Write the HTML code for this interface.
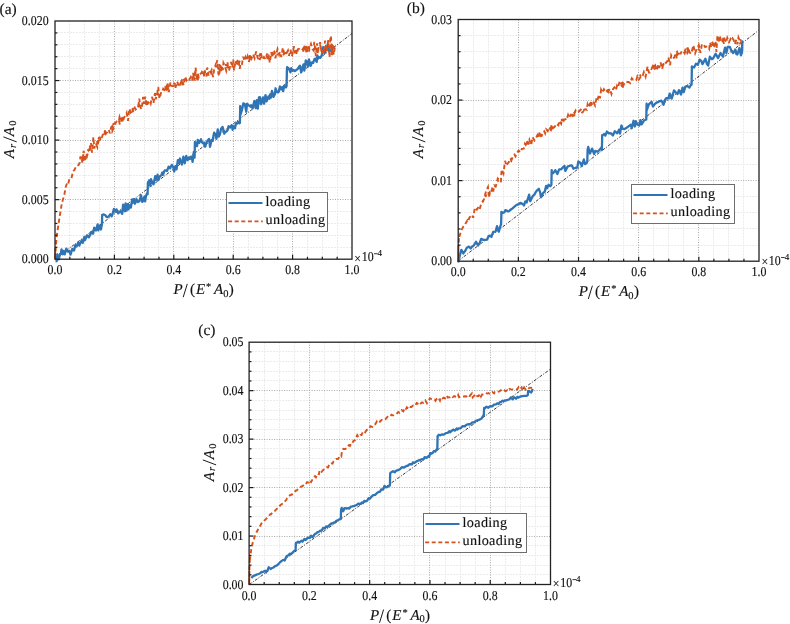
<!DOCTYPE html>
<html><head><meta charset="utf-8"><style>
html,body{margin:0;padding:0;background:#fff;}
svg{display:block;}
text{font-family:"Liberation Serif", serif; fill:#111; text-rendering:geometricPrecision; stroke:#111; stroke-width:0.15px;}
svg{will-change:transform;}
.gmin{stroke:#ebebeb;stroke-width:1;stroke-dasharray:2,1;}
.gmaj{stroke:#a8a8a8;stroke-width:1;stroke-dasharray:1,1.5;}
.ax{fill:none;stroke:#222;stroke-width:1.3;}
.tk{stroke:#1a1a1a;stroke-width:1.2;}
.sl{stroke:#1a1a1a;stroke-width:1.0;}
.ref{stroke:#222;stroke-width:0.9;fill:none;stroke-dasharray:3,1.5,1,1.5;}
.bl{stroke:#2f74b5;stroke-width:2.3;fill:none;stroke-linejoin:round;}
.ort{stroke:#d6521d;stroke-width:1.9;fill:none;}
.or{stroke:#d6521d;stroke-width:1.9;fill:none;stroke-dasharray:4.4,2.8;}
</style></head><body>
<svg width="790" height="624" viewBox="0 0 790 624">

<line x1="69.50" y1="21.00" x2="69.50" y2="259.20" class="gmin"/>
<line x1="84.50" y1="21.00" x2="84.50" y2="259.20" class="gmin"/>
<line x1="99.50" y1="21.00" x2="99.50" y2="259.20" class="gmin"/>
<line x1="129.50" y1="21.00" x2="129.50" y2="259.20" class="gmin"/>
<line x1="144.50" y1="21.00" x2="144.50" y2="259.20" class="gmin"/>
<line x1="158.50" y1="21.00" x2="158.50" y2="259.20" class="gmin"/>
<line x1="188.50" y1="21.00" x2="188.50" y2="259.20" class="gmin"/>
<line x1="203.50" y1="21.00" x2="203.50" y2="259.20" class="gmin"/>
<line x1="218.50" y1="21.00" x2="218.50" y2="259.20" class="gmin"/>
<line x1="248.50" y1="21.00" x2="248.50" y2="259.20" class="gmin"/>
<line x1="262.50" y1="21.00" x2="262.50" y2="259.20" class="gmin"/>
<line x1="277.50" y1="21.00" x2="277.50" y2="259.20" class="gmin"/>
<line x1="307.50" y1="21.00" x2="307.50" y2="259.20" class="gmin"/>
<line x1="322.50" y1="21.00" x2="322.50" y2="259.20" class="gmin"/>
<line x1="337.50" y1="21.00" x2="337.50" y2="259.20" class="gmin"/>
<line x1="55.00" y1="247.50" x2="352.00" y2="247.50" class="gmin"/>
<line x1="55.00" y1="235.50" x2="352.00" y2="235.50" class="gmin"/>
<line x1="55.00" y1="223.50" x2="352.00" y2="223.50" class="gmin"/>
<line x1="55.00" y1="211.50" x2="352.00" y2="211.50" class="gmin"/>
<line x1="55.00" y1="187.50" x2="352.00" y2="187.50" class="gmin"/>
<line x1="55.00" y1="175.50" x2="352.00" y2="175.50" class="gmin"/>
<line x1="55.00" y1="163.50" x2="352.00" y2="163.50" class="gmin"/>
<line x1="55.00" y1="152.50" x2="352.00" y2="152.50" class="gmin"/>
<line x1="55.00" y1="128.50" x2="352.00" y2="128.50" class="gmin"/>
<line x1="55.00" y1="116.50" x2="352.00" y2="116.50" class="gmin"/>
<line x1="55.00" y1="104.50" x2="352.00" y2="104.50" class="gmin"/>
<line x1="55.00" y1="92.50" x2="352.00" y2="92.50" class="gmin"/>
<line x1="55.00" y1="68.50" x2="352.00" y2="68.50" class="gmin"/>
<line x1="55.00" y1="56.50" x2="352.00" y2="56.50" class="gmin"/>
<line x1="55.00" y1="44.50" x2="352.00" y2="44.50" class="gmin"/>
<line x1="55.00" y1="32.50" x2="352.00" y2="32.50" class="gmin"/>
<line x1="114.50" y1="21.00" x2="114.50" y2="259.20" class="gmaj"/>
<line x1="173.50" y1="21.00" x2="173.50" y2="259.20" class="gmaj"/>
<line x1="233.50" y1="21.00" x2="233.50" y2="259.20" class="gmaj"/>
<line x1="292.50" y1="21.00" x2="292.50" y2="259.20" class="gmaj"/>
<line x1="55.00" y1="199.50" x2="352.00" y2="199.50" class="gmaj"/>
<line x1="55.00" y1="140.50" x2="352.00" y2="140.50" class="gmaj"/>
<line x1="55.00" y1="80.50" x2="352.00" y2="80.50" class="gmaj"/>
<line x1="55" y1="259.2" x2="352" y2="33.5" class="ref"/>
<path class="bl" d="M55.50,261.36 L56.69,261.08 L57.33,254.27 L58.79,259.30 L60.04,254.01 L60.68,254.22 L61.56,249.45 L62.82,254.21 L63.57,250.92 L64.68,254.40 L66.33,248.64 L67.89,251.64 L69.30,250.96 L70.53,254.66 L72.31,248.96 L74.08,250.54 L75.30,245.18 L76.56,246.45 L78.22,242.66 L79.33,245.64 L80.54,242.25 L81.89,240.11 L82.70,242.93 L84.28,236.95 L84.90,240.23 L86.25,237.23 L87.05,235.34 L88.22,236.23 L88.95,237.28 L90.53,234.02 L91.32,231.87 L93.09,233.77 L94.17,227.71 L95.93,230.42 L97.66,224.31 L98.30,230.48 L99.94,225.51 L100.96,229.49 L101.68,225.20 L101.90,224.80 L102.20,214.90 L103.33,214.46 L105.11,214.99 L106.72,217.12 L107.90,216.79 L108.70,216.41 L110.31,214.29 L111.64,216.21 L112.36,214.54 L113.96,208.86 L115.24,211.74 L116.52,209.34 L118.11,213.38 L119.78,211.98 L120.51,211.11 L122.21,213.88 L123.11,204.55 L124.89,211.27 L125.57,203.48 L126.42,210.70 L127.82,204.05 L128.52,209.31 L129.89,205.07 L130.87,207.61 L132.12,199.30 L132.81,202.80 L133.76,199.19 L134.96,203.76 L136.49,199.10 L137.71,202.08 L139.40,201.15 L141.09,195.40 L142.21,201.90 L142.89,201.12 L144.51,196.33 L145.14,201.42 L145.90,196.47 L146.98,193.48 L147.60,194.20 L147.90,182.50 L148.18,183.04 L149.07,180.38 L150.34,185.64 L151.00,179.09 L152.52,183.12 L153.57,184.30 L155.24,176.08 L156.10,179.78 L157.56,174.72 L158.21,180.07 L159.91,176.25 L161.30,175.38 L162.36,172.50 L163.11,174.78 L164.20,171.31 L164.80,170.43 L166.13,170.43 L167.06,170.96 L168.63,166.58 L170.15,168.39 L171.72,164.87 L173.24,167.10 L174.21,171.55 L175.35,166.05 L176.54,169.36 L177.86,160.06 L179.01,162.89 L179.98,158.53 L180.58,161.22 L181.88,164.63 L183.38,156.56 L184.73,163.30 L186.25,155.91 L187.70,160.25 L188.88,157.56 L189.99,158.92 L191.73,156.81 L192.58,161.82 L193.81,151.97 L194.60,157.70 L194.90,142.00 L195.19,144.58 L196.07,142.92 L197.06,146.06 L197.70,139.81 L199.21,143.03 L200.98,139.23 L201.90,142.11 L202.93,143.32 L203.90,142.51 L204.72,146.53 L205.36,146.57 L206.37,142.41 L207.45,140.82 L209.04,138.89 L210.03,146.81 L211.66,139.96 L212.74,140.90 L213.36,136.13 L214.12,132.65 L215.72,134.79 L216.36,138.78 L217.75,129.48 L218.64,136.69 L219.97,134.37 L221.07,128.73 L222.52,126.86 L224.29,133.66 L224.96,132.29 L226.74,131.33 L227.81,129.66 L228.52,126.27 L230.00,127.44 L231.63,125.24 L232.62,129.77 L233.35,126.22 L234.95,128.24 L235.90,123.49 L236.92,123.62 L237.89,121.79 L239.09,123.30 L239.90,123.00 L240.20,106.10 L240.09,115.59 L241.80,110.71 L243.36,103.36 L244.90,104.23 L246.27,111.72 L247.08,103.73 L247.90,104.80 L249.15,105.66 L250.38,106.68 L251.19,105.16 L252.64,108.36 L254.32,101.04 L255.87,108.15 L256.71,100.04 L257.80,108.56 L258.95,97.32 L259.91,97.19 L261.20,104.22 L262.94,97.34 L264.15,103.66 L265.51,95.05 L266.60,101.31 L268.31,96.55 L269.35,98.69 L270.09,94.31 L271.01,97.53 L271.92,90.82 L273.45,96.84 L274.91,94.15 L275.54,88.28 L277.01,92.20 L278.27,92.40 L278.99,91.34 L279.91,86.50 L281.45,89.41 L282.41,87.11 L283.13,91.21 L284.23,85.75 L285.91,87.38 L286.60,86.00 L286.90,70.50 L287.09,67.03 L288.85,68.59 L290.46,72.36 L291.22,68.12 L292.46,70.83 L293.89,70.15 L294.90,71.04 L296.14,70.07 L297.72,68.95 L298.47,67.63 L299.91,65.63 L301.19,72.46 L302.53,67.19 L303.54,64.37 L304.31,70.56 L305.78,60.46 L306.55,61.20 L307.96,66.69 L308.98,59.43 L310.63,65.83 L311.91,62.47 L313.16,62.85 L314.29,59.22 L315.45,58.66 L316.71,61.85 L317.34,55.43 L318.11,57.97 L319.12,57.23 L320.24,57.91 L321.80,55.20 L323.17,47.08 L324.71,53.10 L326.04,48.23 L326.64,49.48 L327.67,44.62 L329.23,51.28 L330.50,50.79 L331.48,49.79 L333.01,47.90 L333.40,48.10"/>
<path class="or" d="M55.00,259.00 L55.30,248.50 L55.00,259.16 L56.47,238.05 L57.69,229.57 L59.03,220.63 L59.88,215.18 L60.84,209.45 L61.42,205.75 L62.71,200.18 L64.26,195.04 L65.87,186.41 L67.00,183.32 L67.94,184.54 L69.50,178.73 L70.82,178.72 L71.71,177.23 L72.98,171.32 L74.56,169.76 L76.11,166.50 L76.96,165.40 L78.45,165.12 L79.78,162.61 L80.43,156.47 L81.87,160.20 L82.47,157.60 L83.69,150.88 L85.09,161.52 L86.41,153.38 L87.08,155.78 L88.06,152.00 L89.27,149.65 L89.89,147.81 L91.00,143.11 L92.03,152.73 L93.37,137.11 L94.37,148.55 L95.11,143.54 L96.01,143.65 L97.36,147.25 L98.49,141.09 L99.61,136.71 L100.57,140.48 L102.04,136.80 L103.12,133.80 L104.08,135.44 L105.26,129.75 L105.95,133.75 L107.55,131.61 L108.90,129.70 L109.74,133.41 L111.32,127.01 L112.16,131.26 L113.61,128.00 L114.61,126.67 L115.88,122.58 L117.18,120.59 L118.77,121.37 L119.60,116.92 L121.25,121.41 L121.83,116.43 L122.91,122.12 L123.98,117.50 L125.37,116.00 L126.65,112.95 L127.99,120.86 L129.34,108.77 L130.78,112.59 L131.55,111.75 L132.37,113.25 L133.00,106.41 L134.38,106.86 L135.49,109.49 L136.86,108.41 L138.36,106.47 L139.24,98.50 L140.38,107.39 L141.64,109.17 L143.10,96.86 L144.08,103.94 L145.22,96.53 L146.02,102.04 L146.70,102.08 L147.33,102.10 L148.86,102.17 L149.77,100.78 L150.73,103.41 L151.98,96.86 L153.55,102.95 L154.93,93.07 L155.80,99.29 L156.54,95.63 L157.29,92.76 L158.24,86.85 L159.39,98.64 L160.64,94.34 L161.34,91.41 L162.27,91.64 L163.23,88.71 L164.25,89.72 L165.18,85.97 L166.16,91.08 L167.36,82.68 L168.84,92.11 L170.48,82.30 L171.12,84.00 L172.05,86.07 L173.67,86.14 L174.75,84.72 L175.52,87.85 L177.04,81.66 L177.70,82.88 L178.94,87.04 L180.50,83.25 L181.28,81.87 L182.27,85.12 L183.13,78.68 L184.45,80.78 L185.21,76.62 L186.54,80.44 L188.01,78.24 L189.25,79.70 L190.79,77.03 L192.11,80.73 L193.12,72.98 L194.44,80.68 L195.59,67.58 L196.99,80.99 L197.92,73.48 L198.68,77.49 L199.89,74.61 L201.42,73.02 L202.30,71.04 L203.20,70.32 L204.21,73.10 L204.92,71.53 L206.48,76.44 L207.20,67.52 L208.52,75.59 L209.33,71.91 L210.56,72.37 L211.63,70.09 L213.08,77.06 L214.07,69.95 L215.48,65.30 L216.06,67.32 L217.20,60.27 L218.37,73.66 L219.26,75.86 L220.18,64.98 L221.13,70.95 L222.24,65.94 L222.80,70.17 L223.44,62.93 L224.86,65.98 L226.32,71.09 L227.73,66.11 L228.94,70.78 L230.04,66.51 L231.17,61.95 L232.23,67.52 L233.26,59.61 L233.99,70.32 L235.61,60.70 L236.67,62.36 L238.27,59.22 L239.75,68.82 L240.57,63.82 L241.85,64.88 L243.23,56.67 L244.50,60.90 L245.55,57.21 L246.94,60.48 L247.65,56.34 L249.29,60.00 L250.28,54.28 L251.57,58.40 L253.15,54.26 L254.62,58.27 L256.18,51.50 L257.52,57.46 L259.13,60.87 L260.36,58.07 L261.71,57.05 L262.52,59.37 L263.97,57.02 L265.46,58.99 L266.53,55.70 L268.10,60.24 L268.88,54.76 L269.65,62.70 L270.53,57.65 L271.28,52.01 L271.90,57.14 L273.03,53.46 L273.81,54.73 L274.57,55.04 L275.38,58.25 L276.86,51.76 L277.52,49.09 L279.12,54.50 L279.89,51.85 L281.23,56.98 L282.86,47.60 L284.10,53.14 L285.03,51.56 L286.55,52.99 L287.96,50.52 L288.99,55.71 L290.56,49.66 L291.83,56.32 L293.22,50.92 L293.87,46.29 L295.10,53.24 L295.91,49.30 L296.84,54.27 L298.00,49.15 L299.57,49.00 L300.46,49.62 L301.92,50.45 L302.82,48.94 L303.62,52.25 L304.71,44.62 L306.14,52.52 L307.05,50.12 L308.10,45.50 L309.35,49.49 L310.99,43.98 L312.52,49.02 L313.63,50.55 L314.23,41.79 L315.88,56.08 L317.06,43.37 L317.90,53.60 L318.50,47.68 L320.11,42.22 L321.73,54.12 L322.74,48.76 L324.05,50.55 L325.06,40.71 L326.69,51.72 L328.23,40.19 L329.58,57.28 L330.41,35.93 L331.08,37.68 L331.89,55.84 L332.47,44.80 L333.76,54.65 L334.95,46.75 L335.50,46.00"/>
<path class="ort" d="M83.49,157.37 L83.14,160.96 M83.37,154.13 L83.19,157.79 M83.30,156.30 L81.52,158.34 M81.83,159.62 L82.44,162.78 M91.32,148.14 L89.73,149.23 M90.57,145.59 L89.57,147.34 M87.43,149.38 L89.13,151.46 M89.58,147.99 L90.49,150.69 M99.58,139.59 L96.61,142.29 M98.71,141.62 L96.38,143.32 M99.02,137.43 L98.29,139.07 M104.26,130.69 L105.77,132.10 M111.68,126.45 L112.38,128.36 M111.87,125.65 L111.60,127.17 M115.26,122.79 L112.43,124.70 M113.17,125.52 L111.22,128.23 M119.84,118.23 L121.97,119.65 M119.01,120.55 L119.78,124.61 M132.40,108.17 L133.47,111.83 M139.15,104.01 L137.95,107.39 M138.70,103.75 L138.99,105.46 M145.93,100.38 L145.79,104.46 M147.23,103.48 L145.96,105.01 M148.43,102.79 L147.16,104.55 M158.76,93.17 L156.67,95.03 M156.09,93.50 L154.73,96.05 M167.51,87.90 L166.26,90.75 M167.02,88.32 L166.15,89.76 M168.64,87.27 L167.30,90.13 M169.60,84.40 L168.92,85.79 M173.30,82.88 L175.68,84.59 M182.46,82.09 L183.68,85.13 M182.62,79.53 L181.31,80.44 M195.47,71.84 L195.35,75.06 M196.15,73.83 L193.00,76.60 M193.01,75.81 L194.81,79.31 M202.31,72.51 L204.97,75.41 M203.60,72.51 L204.15,76.30 M204.29,70.69 L204.95,73.70 M211.77,71.06 L211.01,74.44 M219.67,68.13 L220.49,69.64 M219.32,67.19 L217.88,69.59 M219.83,65.74 L222.18,67.85 M219.01,64.05 L219.82,66.22 M227.63,62.27 L227.62,66.29 M225.50,63.99 L226.07,66.08 M239.86,60.58 L238.76,63.45 M235.43,61.65 L237.84,64.54 M248.55,56.04 L250.64,57.87 M249.13,56.90 L250.12,59.64 M249.77,59.10 L248.65,62.08 M260.97,53.16 L261.45,56.54 M259.69,58.17 L258.66,59.33 M260.64,53.32 L258.76,56.56 M267.47,53.46 L267.60,55.25 M277.41,53.53 L277.31,55.57 M273.98,50.63 L275.13,53.16 M274.09,52.05 L275.02,54.30 M285.74,52.34 L282.84,55.01 M286.32,52.06 L286.14,53.91 M292.95,49.33 L295.12,52.54 M305.62,50.81 L306.80,52.13 M308.36,50.14 L307.45,51.74 M305.48,46.38 L307.39,47.73 M309.81,46.65 L306.97,48.60 M315.50,46.51 L315.41,50.08 M319.91,44.56 L320.98,47.30 M330.47,45.29 L332.65,47.97 M332.40,47.58 L334.61,49.34 M331.93,43.88 L330.74,46.55 M332.73,45.81 L334.57,48.06"/>
<rect x="55.00" y="21.00" width="297.00" height="238.20" class="ax"/>
<line x1="69.85" y1="259.20" x2="69.85" y2="256.80" class="tk"/>
<line x1="84.70" y1="259.20" x2="84.70" y2="256.80" class="tk"/>
<line x1="99.55" y1="259.20" x2="99.55" y2="256.80" class="tk"/>
<line x1="114.40" y1="259.20" x2="114.40" y2="254.80" class="tk"/>
<line x1="129.25" y1="259.20" x2="129.25" y2="256.80" class="tk"/>
<line x1="144.10" y1="259.20" x2="144.10" y2="256.80" class="tk"/>
<line x1="158.95" y1="259.20" x2="158.95" y2="256.80" class="tk"/>
<line x1="173.80" y1="259.20" x2="173.80" y2="254.80" class="tk"/>
<line x1="188.65" y1="259.20" x2="188.65" y2="256.80" class="tk"/>
<line x1="203.50" y1="259.20" x2="203.50" y2="256.80" class="tk"/>
<line x1="218.35" y1="259.20" x2="218.35" y2="256.80" class="tk"/>
<line x1="233.20" y1="259.20" x2="233.20" y2="254.80" class="tk"/>
<line x1="248.05" y1="259.20" x2="248.05" y2="256.80" class="tk"/>
<line x1="262.90" y1="259.20" x2="262.90" y2="256.80" class="tk"/>
<line x1="277.75" y1="259.20" x2="277.75" y2="256.80" class="tk"/>
<line x1="292.60" y1="259.20" x2="292.60" y2="254.80" class="tk"/>
<line x1="307.45" y1="259.20" x2="307.45" y2="256.80" class="tk"/>
<line x1="322.30" y1="259.20" x2="322.30" y2="256.80" class="tk"/>
<line x1="337.15" y1="259.20" x2="337.15" y2="256.80" class="tk"/>
<line x1="55.00" y1="247.29" x2="57.40" y2="247.29" class="tk"/>
<line x1="55.00" y1="235.38" x2="57.40" y2="235.38" class="tk"/>
<line x1="55.00" y1="223.47" x2="57.40" y2="223.47" class="tk"/>
<line x1="55.00" y1="211.56" x2="57.40" y2="211.56" class="tk"/>
<line x1="55.00" y1="199.65" x2="59.40" y2="199.65" class="tk"/>
<line x1="55.00" y1="187.74" x2="57.40" y2="187.74" class="tk"/>
<line x1="55.00" y1="175.83" x2="57.40" y2="175.83" class="tk"/>
<line x1="55.00" y1="163.92" x2="57.40" y2="163.92" class="tk"/>
<line x1="55.00" y1="152.01" x2="57.40" y2="152.01" class="tk"/>
<line x1="55.00" y1="140.10" x2="59.40" y2="140.10" class="tk"/>
<line x1="55.00" y1="128.19" x2="57.40" y2="128.19" class="tk"/>
<line x1="55.00" y1="116.28" x2="57.40" y2="116.28" class="tk"/>
<line x1="55.00" y1="104.37" x2="57.40" y2="104.37" class="tk"/>
<line x1="55.00" y1="92.46" x2="57.40" y2="92.46" class="tk"/>
<line x1="55.00" y1="80.55" x2="59.40" y2="80.55" class="tk"/>
<line x1="55.00" y1="68.64" x2="57.40" y2="68.64" class="tk"/>
<line x1="55.00" y1="56.73" x2="57.40" y2="56.73" class="tk"/>
<line x1="55.00" y1="44.82" x2="57.40" y2="44.82" class="tk"/>
<line x1="55.00" y1="32.91" x2="57.40" y2="32.91" class="tk"/>
<text transform="translate(55.00,273.90) scale(0.880,1)" font-size="13.50" text-anchor="middle">0.0</text>
<text transform="translate(114.40,273.90) scale(0.880,1)" font-size="13.50" text-anchor="middle">0.2</text>
<text transform="translate(173.80,273.90) scale(0.880,1)" font-size="13.50" text-anchor="middle">0.4</text>
<text transform="translate(233.20,273.90) scale(0.880,1)" font-size="13.50" text-anchor="middle">0.6</text>
<text transform="translate(292.60,273.90) scale(0.880,1)" font-size="13.50" text-anchor="middle">0.8</text>
<text transform="translate(352.00,273.90) scale(0.880,1)" font-size="13.50" text-anchor="middle">1.0</text>
<text transform="translate(48.60,263.20) scale(0.880,1)" font-size="13.50" text-anchor="end">0.000</text>
<text transform="translate(48.60,203.65) scale(0.880,1)" font-size="13.50" text-anchor="end">0.005</text>
<text transform="translate(48.60,144.10) scale(0.880,1)" font-size="13.50" text-anchor="end">0.010</text>
<text transform="translate(48.60,84.55) scale(0.880,1)" font-size="13.50" text-anchor="end">0.015</text>
<text transform="translate(48.60,25.00) scale(0.880,1)" font-size="13.50" text-anchor="end">0.020</text>
<text transform="translate(354.30,262.50) scale(0.880,1)" font-size="13.50">×</text>
<text transform="translate(361.70,260.90) scale(0.880,1)" font-size="13.50">10</text>
<rect x="374.00" y="253.30" width="3.6" height="0.9" fill="#222"/>
<text x="377.60" y="255.90" font-size="9">4</text>
<text x="173.60" y="294.20" font-size="15.00" font-style="italic">P</text>
<text x="190.00" y="294.20" font-size="15.00">(</text>
<text x="195.90" y="294.20" font-size="15.00" font-style="italic">E</text>
<text x="206.10" y="290.40" font-size="10.50">*</text>
<text x="214.10" y="294.20" font-size="15.00" font-style="italic">A</text>
<text x="223.20" y="296.80" font-size="10.50">0</text>
<text x="228.80" y="294.20" font-size="15.00">)</text>
<line x1="183.20" y1="297.20" x2="187.30" y2="283.90" class="sl"/>
<g transform="translate(14.20,140.00) rotate(-90)"><text x="-18.20" y="0.00" font-size="15.00" font-style="italic">A</text><text x="-8.10" y="1.60" font-size="10.50" font-style="italic">r</text><text x="3.70" y="0.00" font-size="15.00" font-style="italic">A</text><text x="14.30" y="2.00" font-size="10.50">0</text><line x1="-1.9" y1="2.5" x2="3.1" y2="-10.8" class="sl"/></g>
<text x="-0.50" y="14.20" font-size="15.50" text-anchor="start" >(a)</text>
<rect x="226.50" y="192.50" width="101.00" height="39.00" fill="#fff" stroke="#6e6e6e" stroke-width="1"/>
<line x1="228.50" y1="203.10" x2="262.50" y2="203.10" stroke="#2f74b5" stroke-width="2"/>
<line x1="228.10" y1="221.40" x2="262.80" y2="221.40" stroke="#d6521d" stroke-width="1.9" stroke-dasharray="4,2.6"/>
<text x="265.50" y="205.90" font-size="14.20" text-anchor="start" letter-spacing="0.35">loading</text>
<text x="265.50" y="224.10" font-size="14.20" text-anchor="start" letter-spacing="0.35">unloading</text>
<line x1="473.50" y1="19.50" x2="473.50" y2="261.20" class="gmin"/>
<line x1="488.50" y1="19.50" x2="488.50" y2="261.20" class="gmin"/>
<line x1="503.50" y1="19.50" x2="503.50" y2="261.20" class="gmin"/>
<line x1="533.50" y1="19.50" x2="533.50" y2="261.20" class="gmin"/>
<line x1="548.50" y1="19.50" x2="548.50" y2="261.20" class="gmin"/>
<line x1="563.50" y1="19.50" x2="563.50" y2="261.20" class="gmin"/>
<line x1="593.50" y1="19.50" x2="593.50" y2="261.20" class="gmin"/>
<line x1="608.50" y1="19.50" x2="608.50" y2="261.20" class="gmin"/>
<line x1="623.50" y1="19.50" x2="623.50" y2="261.20" class="gmin"/>
<line x1="653.50" y1="19.50" x2="653.50" y2="261.20" class="gmin"/>
<line x1="668.50" y1="19.50" x2="668.50" y2="261.20" class="gmin"/>
<line x1="683.50" y1="19.50" x2="683.50" y2="261.20" class="gmin"/>
<line x1="713.50" y1="19.50" x2="713.50" y2="261.20" class="gmin"/>
<line x1="728.50" y1="19.50" x2="728.50" y2="261.20" class="gmin"/>
<line x1="743.50" y1="19.50" x2="743.50" y2="261.20" class="gmin"/>
<line x1="458.20" y1="245.50" x2="759.00" y2="245.50" class="gmin"/>
<line x1="458.20" y1="228.50" x2="759.00" y2="228.50" class="gmin"/>
<line x1="458.20" y1="212.50" x2="759.00" y2="212.50" class="gmin"/>
<line x1="458.20" y1="196.50" x2="759.00" y2="196.50" class="gmin"/>
<line x1="458.20" y1="164.50" x2="759.00" y2="164.50" class="gmin"/>
<line x1="458.20" y1="148.50" x2="759.00" y2="148.50" class="gmin"/>
<line x1="458.20" y1="132.50" x2="759.00" y2="132.50" class="gmin"/>
<line x1="458.20" y1="116.50" x2="759.00" y2="116.50" class="gmin"/>
<line x1="458.20" y1="83.50" x2="759.00" y2="83.50" class="gmin"/>
<line x1="458.20" y1="67.50" x2="759.00" y2="67.50" class="gmin"/>
<line x1="458.20" y1="51.50" x2="759.00" y2="51.50" class="gmin"/>
<line x1="458.20" y1="35.50" x2="759.00" y2="35.50" class="gmin"/>
<line x1="518.50" y1="19.50" x2="518.50" y2="261.20" class="gmaj"/>
<line x1="578.50" y1="19.50" x2="578.50" y2="261.20" class="gmaj"/>
<line x1="638.50" y1="19.50" x2="638.50" y2="261.20" class="gmaj"/>
<line x1="698.50" y1="19.50" x2="698.50" y2="261.20" class="gmaj"/>
<line x1="458.20" y1="180.50" x2="759.00" y2="180.50" class="gmaj"/>
<line x1="458.20" y1="100.50" x2="759.00" y2="100.50" class="gmaj"/>
<line x1="458.2" y1="261" x2="758.5" y2="30.5" class="ref"/>
<path class="bl" d="M458.20,262.55 L460.11,254.21 L461.36,249.92 L463.30,253.44 L465.41,250.49 L466.77,247.77 L469.11,246.66 L470.72,248.43 L471.94,246.73 L473.65,245.65 L476.04,241.81 L478.03,245.47 L479.85,242.53 L481.18,238.87 L483.39,239.89 L485.73,239.88 L487.14,239.71 L488.52,236.07 L490.06,235.54 L491.44,236.91 L493.18,231.93 L495.63,231.52 L496.99,226.17 L498.82,231.75 L500.47,225.68 L501.10,224.30 L501.40,213.80 L501.35,211.98 L502.98,212.88 L504.46,212.29 L505.35,210.11 L507.57,211.11 L508.59,211.32 L510.90,209.53 L512.51,208.29 L514.74,206.41 L516.68,204.91 L518.88,204.21 L520.42,202.90 L522.77,203.98 L524.00,205.48 L525.34,201.40 L526.68,202.46 L529.10,194.72 L530.24,201.19 L532.68,196.15 L534.35,194.65 L536.58,190.79 L538.83,188.80 L540.14,192.31 L540.99,197.21 L543.30,192.69 L544.74,191.82 L546.15,185.81 L547.14,188.26 L548.63,184.74 L550.33,186.24 L551.40,184.70 L551.70,170.10 L551.59,173.66 L553.17,173.13 L555.36,170.23 L557.34,174.07 L559.15,169.29 L561.31,169.24 L562.47,167.86 L564.46,165.90 L565.38,170.96 L567.50,166.66 L569.76,165.70 L571.89,165.46 L573.45,168.72 L575.57,167.74 L577.30,167.61 L578.31,161.50 L580.38,162.69 L581.77,166.20 L583.82,159.47 L585.04,164.06 L586.50,163.33 L587.30,161.50 L587.60,150.00 L588.17,146.92 L589.96,153.49 L592.06,148.66 L594.13,153.98 L595.30,150.84 L597.68,151.73 L599.77,149.65 L601.23,147.54 L601.90,150.00 L602.20,135.10 L602.82,135.06 L604.33,133.95 L605.37,135.65 L606.86,131.53 L608.82,133.40 L610.82,133.25 L612.89,135.41 L614.81,131.20 L617.24,133.35 L619.04,129.65 L620.00,133.59 L621.46,125.51 L622.73,128.95 L624.51,129.06 L625.82,128.27 L626.98,127.61 L629.10,125.86 L630.85,124.69 L631.75,128.22 L633.54,120.79 L634.90,126.47 L635.75,121.09 L637.39,124.48 L639.33,125.54 L640.41,120.07 L641.66,124.29 L643.99,120.46 L646.30,119.50 L646.60,103.70 L646.42,111.22 L648.85,104.39 L649.89,103.39 L651.58,101.83 L652.95,106.48 L655.33,103.39 L657.19,102.32 L658.29,101.88 L659.82,101.07 L661.51,100.74 L663.55,104.68 L664.77,100.34 L666.21,98.06 L668.40,98.37 L669.70,93.55 L671.71,98.59 L672.85,94.38 L674.05,90.43 L676.49,92.94 L677.49,94.05 L678.91,90.18 L681.01,94.45 L682.56,87.62 L683.70,92.13 L685.38,86.62 L687.52,86.06 L689.46,87.57 L691.56,83.69 L691.60,84.70 L691.90,66.50 L694.03,67.49 L695.99,63.77 L697.83,64.85 L699.64,59.65 L701.40,61.23 L702.44,64.19 L703.43,62.52 L705.38,58.68 L706.98,64.09 L708.18,65.51 L709.86,56.61 L711.81,59.16 L713.23,58.28 L715.66,53.77 L718.09,58.09 L720.56,53.06 L722.97,56.52 L725.05,47.58 L726.37,52.88 L727.71,46.87 L729.86,46.79 L731.34,50.71 L733.11,53.00 L735.47,49.80 L736.34,54.06 L737.27,54.51 L739.46,48.05 L740.88,55.39 L741.90,52.50 L742.30,41.50 L742.15,50.63 L742.30,41.50"/>
<path class="or" d="M458.20,261.00 L458.50,245.00 L458.20,260.99 L458.50,245.00 L459.00,237.60 L458.94,238.32 L459.87,234.86 L460.80,231.83 L461.71,229.64 L463.50,226.35 L464.38,225.20 L465.74,223.13 L467.49,220.15 L468.35,221.35 L469.37,217.50 L470.27,216.80 L471.39,215.42 L472.17,214.81 L473.13,217.79 L474.94,207.53 L476.85,209.65 L478.56,206.90 L479.71,209.11 L481.37,203.04 L482.58,201.55 L484.11,199.21 L486.05,190.91 L487.99,187.00 L488.96,197.91 L489.92,192.58 L490.64,193.50 L492.46,187.57 L493.23,191.47 L494.32,185.43 L495.66,186.47 L497.55,179.33 L498.26,181.19 L498.99,181.12 L500.84,182.55 L501.64,169.50 L503.44,173.46 L505.09,160.82 L506.38,165.66 L508.02,163.03 L508.79,162.18 L509.74,159.67 L511.20,160.98 L512.86,156.36 L514.59,154.57 L515.47,156.40 L517.30,152.69 L518.58,150.48 L520.33,152.25 L521.86,148.82 L523.70,148.58 L524.92,143.64 L525.74,144.79 L527.57,141.01 L528.34,144.53 L529.41,140.03 L531.14,145.23 L532.55,137.16 L534.46,140.48 L535.91,138.22 L537.34,135.29 L538.42,138.34 L539.59,131.63 L540.94,135.75 L542.40,133.83 L544.25,131.29 L545.19,133.36 L546.15,129.26 L547.68,131.10 L548.53,129.01 L549.26,129.45 L550.87,130.41 L552.24,125.57 L553.09,128.07 L554.88,126.57 L555.96,123.98 L556.63,123.84 L558.35,125.26 L559.24,120.83 L561.11,123.77 L561.90,119.48 L563.72,119.79 L565.48,119.02 L566.57,120.12 L568.08,115.04 L569.19,117.88 L570.62,114.64 L572.45,114.76 L573.76,115.41 L574.43,113.19 L575.55,110.57 L576.71,112.24 L578.34,112.01 L579.90,110.48 L581.76,108.84 L583.51,110.78 L584.20,109.55 L585.83,109.20 L586.76,109.71 L587.56,104.40 L588.52,106.94 L589.91,104.30 L590.79,105.24 L591.71,103.75 L593.15,101.29 L595.04,105.48 L596.61,97.93 L597.44,100.07 L599.05,94.53 L599.99,98.29 L601.09,89.78 L602.19,92.24 L603.91,89.18 L605.50,92.17 L606.61,91.27 L608.21,91.05 L610.03,88.87 L611.48,94.05 L613.17,88.77 L614.38,87.35 L615.91,90.25 L617.00,85.75 L617.90,87.39 L619.84,81.21 L621.62,82.81 L622.98,84.24 L623.90,84.38 L625.71,81.55 L627.46,81.97 L628.67,81.95 L630.38,83.16 L631.04,80.55 L631.81,78.29 L633.18,79.63 L633.96,79.20 L635.38,80.00 L636.23,80.21 L637.35,76.34 L638.81,79.48 L640.22,77.45 L641.81,74.52 L642.87,75.09 L643.90,72.04 L645.59,76.68 L647.53,66.59 L648.90,72.48 L649.87,72.45 L651.54,68.91 L652.76,66.13 L653.86,67.54 L655.26,65.49 L656.42,70.35 L657.23,68.43 L658.29,64.24 L659.08,67.97 L660.65,62.51 L662.11,68.99 L663.58,63.13 L665.37,62.69 L666.18,62.73 L667.44,60.90 L668.44,57.49 L670.09,65.21 L671.19,55.13 L672.81,58.29 L674.30,57.49 L675.35,53.82 L677.06,51.89 L678.28,55.98 L679.01,53.62 L680.70,53.52 L682.09,50.54 L683.57,51.68 L684.66,53.39 L685.63,50.89 L687.11,53.09 L688.68,48.11 L689.51,52.51 L691.28,53.74 L692.28,49.57 L693.30,45.25 L695.17,53.22 L696.66,49.14 L697.40,48.19 L698.74,44.93 L700.45,52.93 L701.88,44.40 L703.45,44.09 L705.09,47.01 L706.35,46.57 L707.66,46.46 L709.21,48.90 L710.01,42.52 L711.31,47.31 L712.67,43.31 L713.55,44.50 L714.72,41.48 L715.72,42.58 L716.44,52.03 L717.43,35.13 L718.62,42.74 L719.78,35.51 L721.36,42.20 L722.14,42.51 L723.80,36.34 L724.81,39.96 L726.11,42.59 L727.29,37.87 L729.01,42.12 L730.59,38.79 L731.57,40.18 L732.57,38.38 L733.58,39.80 L734.90,44.21 L736.22,39.75 L737.45,44.31 L738.48,37.50 L739.82,40.89 L740.96,40.84 L741.40,41.50"/>
<path class="ort" d="M483.43,200.18 L482.91,202.35 M485.90,194.28 L485.67,197.12 M485.13,194.88 L485.50,196.33 M486.33,194.43 L485.11,196.28 M495.62,185.20 L495.20,187.37 M497.57,178.12 L498.77,179.21 M510.51,158.16 L511.28,160.47 M526.56,141.28 L529.03,143.82 M526.44,142.69 L526.80,144.33 M526.91,141.56 L527.14,144.33 M542.16,134.24 L541.34,137.02 M551.56,125.30 L551.02,127.21 M551.74,128.73 L549.67,130.22 M552.51,126.21 L551.14,128.41 M551.52,126.76 L549.29,128.95 M561.80,118.86 L561.79,121.27 M564.02,119.34 L563.34,121.83 M572.57,114.71 L574.56,116.24 M573.11,114.94 L571.79,116.78 M574.88,114.23 L574.21,115.59 M575.46,111.93 L573.79,113.04 M583.47,111.42 L581.39,112.90 M591.40,101.92 L591.28,104.53 M590.06,102.18 L592.53,104.64 M590.34,103.21 L588.91,106.23 M609.05,89.08 L608.06,90.93 M607.86,91.41 L609.10,92.69 M606.54,89.81 L608.52,91.19 M606.67,90.89 L609.40,92.96 M623.20,81.85 L621.87,83.79 M623.31,84.94 L622.67,87.70 M622.30,85.27 L620.83,86.35 M621.79,82.47 L620.45,84.43 M639.77,74.58 L640.91,76.30 M653.66,64.81 L654.69,67.23 M653.76,65.92 L652.95,68.13 M654.71,65.21 L654.09,66.78 M653.34,67.64 L655.54,69.51 M664.29,63.41 L662.33,65.01 M678.00,53.74 L675.10,55.67 M677.12,53.35 L676.86,55.26 M675.99,56.04 L676.98,58.40 M675.40,54.33 L677.15,56.48 M688.16,47.33 L687.58,50.40 M687.71,50.80 L687.40,53.37 M685.72,48.72 L684.73,51.23 M686.67,47.66 L688.90,49.85 M699.72,45.81 L698.46,48.14 M697.96,48.75 L699.57,50.11 M715.61,44.65 L713.81,46.77 M711.91,41.99 L713.52,44.38 M713.60,43.32 L712.69,46.06 M713.53,43.11 L715.58,45.92 M722.68,39.51 L724.13,40.98 M722.88,41.10 L724.16,43.88 M739.82,42.08 L741.28,43.67 M741.53,42.05 L739.42,43.68 M740.14,39.33 L741.25,40.89"/>
<rect x="458.20" y="19.50" width="300.80" height="241.70" class="ax"/>
<line x1="473.24" y1="261.20" x2="473.24" y2="258.80" class="tk"/>
<line x1="488.28" y1="261.20" x2="488.28" y2="258.80" class="tk"/>
<line x1="503.32" y1="261.20" x2="503.32" y2="258.80" class="tk"/>
<line x1="518.36" y1="261.20" x2="518.36" y2="256.80" class="tk"/>
<line x1="533.40" y1="261.20" x2="533.40" y2="258.80" class="tk"/>
<line x1="548.44" y1="261.20" x2="548.44" y2="258.80" class="tk"/>
<line x1="563.48" y1="261.20" x2="563.48" y2="258.80" class="tk"/>
<line x1="578.52" y1="261.20" x2="578.52" y2="256.80" class="tk"/>
<line x1="593.56" y1="261.20" x2="593.56" y2="258.80" class="tk"/>
<line x1="608.60" y1="261.20" x2="608.60" y2="258.80" class="tk"/>
<line x1="623.64" y1="261.20" x2="623.64" y2="258.80" class="tk"/>
<line x1="638.68" y1="261.20" x2="638.68" y2="256.80" class="tk"/>
<line x1="653.72" y1="261.20" x2="653.72" y2="258.80" class="tk"/>
<line x1="668.76" y1="261.20" x2="668.76" y2="258.80" class="tk"/>
<line x1="683.80" y1="261.20" x2="683.80" y2="258.80" class="tk"/>
<line x1="698.84" y1="261.20" x2="698.84" y2="256.80" class="tk"/>
<line x1="713.88" y1="261.20" x2="713.88" y2="258.80" class="tk"/>
<line x1="728.92" y1="261.20" x2="728.92" y2="258.80" class="tk"/>
<line x1="743.96" y1="261.20" x2="743.96" y2="258.80" class="tk"/>
<line x1="458.20" y1="245.09" x2="460.60" y2="245.09" class="tk"/>
<line x1="458.20" y1="228.97" x2="460.60" y2="228.97" class="tk"/>
<line x1="458.20" y1="212.86" x2="460.60" y2="212.86" class="tk"/>
<line x1="458.20" y1="196.75" x2="460.60" y2="196.75" class="tk"/>
<line x1="458.20" y1="180.63" x2="462.60" y2="180.63" class="tk"/>
<line x1="458.20" y1="164.52" x2="460.60" y2="164.52" class="tk"/>
<line x1="458.20" y1="148.41" x2="460.60" y2="148.41" class="tk"/>
<line x1="458.20" y1="132.29" x2="460.60" y2="132.29" class="tk"/>
<line x1="458.20" y1="116.18" x2="460.60" y2="116.18" class="tk"/>
<line x1="458.20" y1="100.07" x2="462.60" y2="100.07" class="tk"/>
<line x1="458.20" y1="83.95" x2="460.60" y2="83.95" class="tk"/>
<line x1="458.20" y1="67.84" x2="460.60" y2="67.84" class="tk"/>
<line x1="458.20" y1="51.73" x2="460.60" y2="51.73" class="tk"/>
<line x1="458.20" y1="35.61" x2="460.60" y2="35.61" class="tk"/>
<text transform="translate(458.20,275.80) scale(0.880,1)" font-size="13.50" text-anchor="middle">0.0</text>
<text transform="translate(518.36,275.80) scale(0.880,1)" font-size="13.50" text-anchor="middle">0.2</text>
<text transform="translate(578.52,275.80) scale(0.880,1)" font-size="13.50" text-anchor="middle">0.4</text>
<text transform="translate(638.68,275.80) scale(0.880,1)" font-size="13.50" text-anchor="middle">0.6</text>
<text transform="translate(698.84,275.80) scale(0.880,1)" font-size="13.50" text-anchor="middle">0.8</text>
<text transform="translate(759.00,275.80) scale(0.880,1)" font-size="13.50" text-anchor="middle">1.0</text>
<text transform="translate(452.00,265.20) scale(0.880,1)" font-size="13.50" text-anchor="end">0.00</text>
<text transform="translate(452.00,184.63) scale(0.880,1)" font-size="13.50" text-anchor="end">0.01</text>
<text transform="translate(452.00,104.07) scale(0.880,1)" font-size="13.50" text-anchor="end">0.02</text>
<text transform="translate(452.00,23.50) scale(0.880,1)" font-size="13.50" text-anchor="end">0.03</text>
<text transform="translate(761.40,266.20) scale(0.880,1)" font-size="13.50">×</text>
<text transform="translate(768.80,264.60) scale(0.880,1)" font-size="13.50">10</text>
<rect x="781.10" y="257.00" width="3.6" height="0.9" fill="#222"/>
<text x="784.70" y="259.60" font-size="9">4</text>
<text x="578.70" y="296.00" font-size="15.00" font-style="italic">P</text>
<text x="595.10" y="296.00" font-size="15.00">(</text>
<text x="601.00" y="296.00" font-size="15.00" font-style="italic">E</text>
<text x="611.20" y="292.20" font-size="10.50">*</text>
<text x="619.20" y="296.00" font-size="15.00" font-style="italic">A</text>
<text x="628.30" y="298.60" font-size="10.50">0</text>
<text x="633.90" y="296.00" font-size="15.00">)</text>
<line x1="588.30" y1="299.00" x2="592.40" y2="285.70" class="sl"/>
<g transform="translate(422.80,140.00) rotate(-90)"><text x="-18.20" y="0.00" font-size="15.00" font-style="italic">A</text><text x="-8.10" y="1.60" font-size="10.50" font-style="italic">r</text><text x="3.70" y="0.00" font-size="15.00" font-style="italic">A</text><text x="14.30" y="2.00" font-size="10.50">0</text><line x1="-1.9" y1="2.5" x2="3.1" y2="-10.8" class="sl"/></g>
<text x="406.80" y="12.80" font-size="15.50" text-anchor="start" >(b)</text>
<rect x="631.50" y="184.50" width="103.00" height="39.00" fill="#fff" stroke="#6e6e6e" stroke-width="1"/>
<line x1="633.50" y1="195.10" x2="667.50" y2="195.10" stroke="#2f74b5" stroke-width="2"/>
<line x1="633.10" y1="213.40" x2="667.80" y2="213.40" stroke="#d6521d" stroke-width="1.9" stroke-dasharray="4,2.6"/>
<text x="670.50" y="197.90" font-size="14.20" text-anchor="start" letter-spacing="0.35">loading</text>
<text x="670.50" y="216.10" font-size="14.20" text-anchor="start" letter-spacing="0.35">unloading</text>
<line x1="264.50" y1="342.20" x2="264.50" y2="584.50" class="gmin"/>
<line x1="279.50" y1="342.20" x2="279.50" y2="584.50" class="gmin"/>
<line x1="294.50" y1="342.20" x2="294.50" y2="584.50" class="gmin"/>
<line x1="324.50" y1="342.20" x2="324.50" y2="584.50" class="gmin"/>
<line x1="339.50" y1="342.20" x2="339.50" y2="584.50" class="gmin"/>
<line x1="354.50" y1="342.20" x2="354.50" y2="584.50" class="gmin"/>
<line x1="384.50" y1="342.20" x2="384.50" y2="584.50" class="gmin"/>
<line x1="399.50" y1="342.20" x2="399.50" y2="584.50" class="gmin"/>
<line x1="414.50" y1="342.20" x2="414.50" y2="584.50" class="gmin"/>
<line x1="445.50" y1="342.20" x2="445.50" y2="584.50" class="gmin"/>
<line x1="460.50" y1="342.20" x2="460.50" y2="584.50" class="gmin"/>
<line x1="475.50" y1="342.20" x2="475.50" y2="584.50" class="gmin"/>
<line x1="505.50" y1="342.20" x2="505.50" y2="584.50" class="gmin"/>
<line x1="520.50" y1="342.20" x2="520.50" y2="584.50" class="gmin"/>
<line x1="535.50" y1="342.20" x2="535.50" y2="584.50" class="gmin"/>
<line x1="249.10" y1="574.50" x2="550.50" y2="574.50" class="gmin"/>
<line x1="249.10" y1="565.50" x2="550.50" y2="565.50" class="gmin"/>
<line x1="249.10" y1="555.50" x2="550.50" y2="555.50" class="gmin"/>
<line x1="249.10" y1="545.50" x2="550.50" y2="545.50" class="gmin"/>
<line x1="249.10" y1="526.50" x2="550.50" y2="526.50" class="gmin"/>
<line x1="249.10" y1="516.50" x2="550.50" y2="516.50" class="gmin"/>
<line x1="249.10" y1="506.50" x2="550.50" y2="506.50" class="gmin"/>
<line x1="249.10" y1="497.50" x2="550.50" y2="497.50" class="gmin"/>
<line x1="249.10" y1="477.50" x2="550.50" y2="477.50" class="gmin"/>
<line x1="249.10" y1="468.50" x2="550.50" y2="468.50" class="gmin"/>
<line x1="249.10" y1="458.50" x2="550.50" y2="458.50" class="gmin"/>
<line x1="249.10" y1="448.50" x2="550.50" y2="448.50" class="gmin"/>
<line x1="249.10" y1="429.50" x2="550.50" y2="429.50" class="gmin"/>
<line x1="249.10" y1="419.50" x2="550.50" y2="419.50" class="gmin"/>
<line x1="249.10" y1="410.50" x2="550.50" y2="410.50" class="gmin"/>
<line x1="249.10" y1="400.50" x2="550.50" y2="400.50" class="gmin"/>
<line x1="249.10" y1="380.50" x2="550.50" y2="380.50" class="gmin"/>
<line x1="249.10" y1="371.50" x2="550.50" y2="371.50" class="gmin"/>
<line x1="249.10" y1="361.50" x2="550.50" y2="361.50" class="gmin"/>
<line x1="249.10" y1="351.50" x2="550.50" y2="351.50" class="gmin"/>
<line x1="309.50" y1="342.20" x2="309.50" y2="584.50" class="gmaj"/>
<line x1="369.50" y1="342.20" x2="369.50" y2="584.50" class="gmaj"/>
<line x1="429.50" y1="342.20" x2="429.50" y2="584.50" class="gmaj"/>
<line x1="490.50" y1="342.20" x2="490.50" y2="584.50" class="gmaj"/>
<line x1="249.10" y1="536.50" x2="550.50" y2="536.50" class="gmaj"/>
<line x1="249.10" y1="487.50" x2="550.50" y2="487.50" class="gmaj"/>
<line x1="249.10" y1="439.50" x2="550.50" y2="439.50" class="gmaj"/>
<line x1="249.10" y1="390.50" x2="550.50" y2="390.50" class="gmaj"/>
<line x1="249.2" y1="584.6" x2="550" y2="369.5" class="ref"/>
<path class="bl" d="M251.30,578.08 L253.16,576.10 L254.88,575.41 L256.45,574.64 L258.57,574.02 L260.25,573.28 L261.32,571.99 L262.88,572.08 L265.08,570.80 L266.05,572.47 L267.31,570.62 L268.78,567.24 L270.80,569.06 L271.56,568.26 L273.44,567.54 L274.98,566.19 L277.02,565.34 L278.69,563.90 L279.90,562.40 L281.69,560.88 L283.24,559.87 L284.67,560.45 L286.68,556.02 L288.61,555.24 L289.80,553.57 L291.23,554.02 L292.59,552.55 L294.28,550.77 L295.60,550.00 L295.90,543.00 L296.20,543.06 L298.00,541.67 L299.17,542.71 L301.34,540.75 L302.46,541.66 L304.41,538.97 L305.68,539.99 L307.87,537.61 L310.02,537.85 L311.03,535.68 L312.72,537.11 L314.13,534.91 L314.94,534.12 L316.17,533.42 L317.49,532.16 L318.24,532.10 L320.24,530.75 L321.80,530.51 L323.18,527.90 L324.83,528.39 L326.10,526.50 L327.78,526.74 L329.17,525.31 L331.36,523.29 L332.86,523.31 L334.04,522.48 L335.23,522.19 L336.39,520.62 L337.37,520.70 L339.09,519.26 L340.29,519.06 L340.80,519.00 L341.10,509.70 L341.74,507.91 L343.17,511.28 L344.56,508.06 L346.68,508.50 L347.87,508.19 L349.27,508.60 L350.74,506.68 L352.37,506.45 L354.31,505.92 L356.55,505.05 L358.27,503.66 L360.40,503.91 L362.08,502.49 L362.92,503.14 L364.32,500.93 L365.63,501.44 L367.14,500.71 L368.71,498.18 L369.82,498.66 L371.55,496.55 L373.19,495.18 L375.13,494.93 L377.31,492.74 L379.06,491.79 L380.16,491.55 L381.12,489.38 L383.14,489.61 L384.49,485.95 L385.96,487.35 L387.64,486.93 L388.63,486.16 L389.76,485.42 L389.90,485.50 L390.20,473.30 L391.23,472.26 L393.01,471.20 L394.77,472.30 L395.82,470.80 L398.03,470.12 L399.88,469.25 L402.04,467.07 L403.96,467.60 L405.48,466.57 L406.97,465.92 L408.32,465.34 L409.14,464.47 L410.50,464.20 L412.06,464.43 L412.84,462.39 L414.52,462.91 L416.51,461.39 L418.42,460.49 L419.54,460.28 L420.38,459.71 L421.69,459.23 L423.28,459.53 L424.69,457.11 L426.49,457.97 L427.34,457.08 L428.19,456.21 L429.13,456.94 L430.23,453.13 L432.22,453.42 L434.03,451.01 L435.26,451.53 L437.16,448.61 L437.30,449.50 L437.60,436.10 L438.06,435.69 L438.86,434.73 L439.94,435.33 L441.81,434.50 L443.82,434.59 L445.82,433.07 L447.65,432.79 L449.42,431.13 L450.19,432.25 L451.41,431.19 L453.22,429.61 L455.01,430.63 L456.65,428.49 L457.53,429.55 L458.74,428.31 L460.62,428.34 L462.63,426.04 L464.72,426.42 L465.48,425.47 L467.59,424.29 L469.17,424.07 L470.38,424.29 L472.08,422.40 L474.07,422.46 L475.62,421.05 L477.82,420.05 L479.47,419.63 L481.26,418.82 L483.44,415.40 L483.80,415.50 L484.10,408.00 L484.54,408.59 L485.58,407.49 L486.48,406.60 L488.30,407.87 L489.21,406.73 L490.65,406.14 L492.21,406.30 L493.99,404.58 L495.88,404.38 L497.16,403.32 L498.66,403.94 L499.91,402.13 L501.02,401.87 L502.49,400.63 L503.37,401.22 L504.66,400.45 L506.19,400.35 L507.65,399.97 L509.16,399.49 L510.80,397.49 L512.70,399.33 L514.02,397.16 L515.94,398.69 L517.33,396.83 L518.26,397.64 L520.36,396.49 L522.55,396.15 L524.70,395.80 L526.58,395.90 L527.80,395.00 L528.10,391.10 L528.80,390.85 L530.11,391.77 L531.22,392.47 L532.17,390.72 L532.50,389.00"/>
<path class="or" d="M249.20,584.60 L249.50,567.00 L249.20,584.86 L249.50,567.00 L250.00,557.50 L249.85,560.02 L251.50,547.53 L252.85,542.24 L253.85,539.34 L254.62,536.71 L255.52,534.78 L256.44,532.50 L257.75,530.00 L258.44,528.42 L259.21,527.66 L260.26,525.72 L262.04,522.27 L263.86,521.18 L264.68,520.20 L265.85,519.17 L267.37,517.50 L268.69,516.35 L270.31,514.22 L270.99,514.21 L272.23,512.93 L273.67,511.48 L274.81,511.01 L276.72,508.90 L277.89,508.07 L278.55,506.95 L279.35,506.44 L280.08,505.45 L281.74,504.09 L282.86,503.70 L284.33,502.00 L286.15,500.06 L286.91,498.66 L288.15,498.00 L289.98,495.19 L291.55,494.77 L293.43,493.03 L294.64,491.70 L296.12,490.47 L296.83,490.29 L297.93,488.98 L299.18,488.13 L299.87,487.77 L301.26,486.48 L303.10,485.63 L304.49,484.20 L305.63,484.58 L307.15,482.04 L308.66,482.53 L309.39,480.45 L310.17,481.27 L311.11,482.10 L312.71,479.06 L313.50,478.55 L315.03,476.08 L315.94,477.25 L317.36,473.69 L318.93,474.15 L319.63,470.41 L321.51,471.95 L322.17,471.05 L323.59,469.54 L325.51,469.06 L326.78,467.34 L328.02,467.40 L329.34,464.08 L330.68,462.98 L332.49,463.62 L333.58,461.31 L334.71,460.12 L336.35,458.93 L338.19,458.78 L339.85,455.99 L341.27,456.55 L342.09,450.38 L343.39,448.77 L345.32,449.07 L346.91,447.31 L348.68,445.28 L349.92,445.93 L351.39,443.03 L352.08,443.38 L353.66,440.68 L354.80,440.40 L355.97,437.96 L357.20,435.12 L358.48,437.28 L360.41,434.99 L361.51,435.10 L363.10,431.64 L363.75,431.15 L364.45,431.36 L365.17,432.13 L366.77,429.85 L367.66,429.67 L369.02,428.61 L370.43,426.23 L372.35,426.90 L373.34,424.90 L375.28,424.29 L376.78,421.59 L377.57,422.69 L378.22,421.53 L379.98,421.70 L381.58,419.91 L382.90,419.98 L384.67,419.28 L385.47,419.34 L386.35,418.02 L387.43,416.90 L388.50,417.29 L390.02,416.68 L391.51,414.64 L393.12,415.52 L394.61,414.65 L396.44,413.89 L398.26,412.02 L399.53,412.87 L401.06,411.38 L401.72,410.14 L403.21,411.32 L404.33,409.18 L405.13,410.44 L406.85,407.30 L408.52,408.75 L409.40,406.88 L410.06,407.03 L411.34,407.00 L412.13,406.25 L413.24,405.53 L414.26,405.87 L415.17,405.89 L416.65,402.88 L417.40,403.20 L418.18,404.50 L419.41,402.75 L420.76,403.48 L422.08,402.44 L423.58,402.96 L425.35,400.42 L426.91,403.23 L427.82,401.15 L428.88,400.50 L429.90,398.25 L431.34,399.03 L432.69,399.76 L434.59,399.52 L435.42,400.74 L437.09,398.48 L438.51,397.53 L439.98,400.60 L441.04,397.23 L442.42,398.29 L443.86,397.68 L444.97,398.43 L446.66,395.43 L447.84,397.59 L448.91,397.13 L449.88,397.25 L451.19,395.95 L452.74,397.02 L454.27,396.11 L456.01,396.89 L457.58,397.25 L458.25,395.14 L459.09,397.22 L460.57,396.65 L462.18,396.45 L463.53,396.50 L465.45,396.32 L466.51,396.47 L467.51,397.65 L469.28,397.11 L469.94,395.63 L471.87,393.44 L472.66,397.28 L474.32,395.63 L476.07,393.94 L477.29,396.28 L478.55,396.03 L479.96,393.74 L480.99,396.46 L482.13,394.46 L483.31,394.33 L484.55,393.85 L485.74,393.07 L487.45,393.55 L488.46,393.04 L489.46,393.53 L490.43,392.09 L491.58,392.33 L492.51,392.06 L494.08,393.41 L494.94,392.13 L495.91,392.41 L497.43,391.94 L499.30,391.29 L500.99,390.25 L502.66,390.10 L503.53,389.23 L505.46,391.26 L507.25,390.16 L507.93,390.94 L509.58,388.91 L511.39,389.60 L513.14,389.41 L514.47,389.59 L515.20,389.26 L517.01,389.62 L518.74,386.94 L520.49,388.86 L521.62,387.50 L522.63,390.41 L524.08,387.30 L525.99,390.13 L527.44,390.06 L528.64,388.33 L529.56,387.64 L531.31,387.84 L532.50,387.60"/>
<rect x="249.10" y="342.20" width="301.40" height="242.30" class="ax"/>
<line x1="264.17" y1="584.50" x2="264.17" y2="582.10" class="tk"/>
<line x1="279.24" y1="584.50" x2="279.24" y2="582.10" class="tk"/>
<line x1="294.31" y1="584.50" x2="294.31" y2="582.10" class="tk"/>
<line x1="309.38" y1="584.50" x2="309.38" y2="580.10" class="tk"/>
<line x1="324.45" y1="584.50" x2="324.45" y2="582.10" class="tk"/>
<line x1="339.52" y1="584.50" x2="339.52" y2="582.10" class="tk"/>
<line x1="354.59" y1="584.50" x2="354.59" y2="582.10" class="tk"/>
<line x1="369.66" y1="584.50" x2="369.66" y2="580.10" class="tk"/>
<line x1="384.73" y1="584.50" x2="384.73" y2="582.10" class="tk"/>
<line x1="399.80" y1="584.50" x2="399.80" y2="582.10" class="tk"/>
<line x1="414.87" y1="584.50" x2="414.87" y2="582.10" class="tk"/>
<line x1="429.94" y1="584.50" x2="429.94" y2="580.10" class="tk"/>
<line x1="445.01" y1="584.50" x2="445.01" y2="582.10" class="tk"/>
<line x1="460.08" y1="584.50" x2="460.08" y2="582.10" class="tk"/>
<line x1="475.15" y1="584.50" x2="475.15" y2="582.10" class="tk"/>
<line x1="490.22" y1="584.50" x2="490.22" y2="580.10" class="tk"/>
<line x1="505.29" y1="584.50" x2="505.29" y2="582.10" class="tk"/>
<line x1="520.36" y1="584.50" x2="520.36" y2="582.10" class="tk"/>
<line x1="535.43" y1="584.50" x2="535.43" y2="582.10" class="tk"/>
<line x1="249.10" y1="574.81" x2="251.50" y2="574.81" class="tk"/>
<line x1="249.10" y1="565.12" x2="251.50" y2="565.12" class="tk"/>
<line x1="249.10" y1="555.42" x2="251.50" y2="555.42" class="tk"/>
<line x1="249.10" y1="545.73" x2="251.50" y2="545.73" class="tk"/>
<line x1="249.10" y1="536.04" x2="253.50" y2="536.04" class="tk"/>
<line x1="249.10" y1="526.35" x2="251.50" y2="526.35" class="tk"/>
<line x1="249.10" y1="516.66" x2="251.50" y2="516.66" class="tk"/>
<line x1="249.10" y1="506.96" x2="251.50" y2="506.96" class="tk"/>
<line x1="249.10" y1="497.27" x2="251.50" y2="497.27" class="tk"/>
<line x1="249.10" y1="487.58" x2="253.50" y2="487.58" class="tk"/>
<line x1="249.10" y1="477.89" x2="251.50" y2="477.89" class="tk"/>
<line x1="249.10" y1="468.20" x2="251.50" y2="468.20" class="tk"/>
<line x1="249.10" y1="458.50" x2="251.50" y2="458.50" class="tk"/>
<line x1="249.10" y1="448.81" x2="251.50" y2="448.81" class="tk"/>
<line x1="249.10" y1="439.12" x2="253.50" y2="439.12" class="tk"/>
<line x1="249.10" y1="429.43" x2="251.50" y2="429.43" class="tk"/>
<line x1="249.10" y1="419.74" x2="251.50" y2="419.74" class="tk"/>
<line x1="249.10" y1="410.04" x2="251.50" y2="410.04" class="tk"/>
<line x1="249.10" y1="400.35" x2="251.50" y2="400.35" class="tk"/>
<line x1="249.10" y1="390.66" x2="253.50" y2="390.66" class="tk"/>
<line x1="249.10" y1="380.97" x2="251.50" y2="380.97" class="tk"/>
<line x1="249.10" y1="371.28" x2="251.50" y2="371.28" class="tk"/>
<line x1="249.10" y1="361.58" x2="251.50" y2="361.58" class="tk"/>
<line x1="249.10" y1="351.89" x2="251.50" y2="351.89" class="tk"/>
<text transform="translate(249.10,599.50) scale(0.880,1)" font-size="13.50" text-anchor="middle">0.0</text>
<text transform="translate(309.38,599.50) scale(0.880,1)" font-size="13.50" text-anchor="middle">0.2</text>
<text transform="translate(369.66,599.50) scale(0.880,1)" font-size="13.50" text-anchor="middle">0.4</text>
<text transform="translate(429.94,599.50) scale(0.880,1)" font-size="13.50" text-anchor="middle">0.6</text>
<text transform="translate(490.22,599.50) scale(0.880,1)" font-size="13.50" text-anchor="middle">0.8</text>
<text transform="translate(550.50,599.50) scale(0.880,1)" font-size="13.50" text-anchor="middle">1.0</text>
<text transform="translate(243.50,588.50) scale(0.880,1)" font-size="13.50" text-anchor="end">0.00</text>
<text transform="translate(243.50,540.04) scale(0.880,1)" font-size="13.50" text-anchor="end">0.01</text>
<text transform="translate(243.50,491.58) scale(0.880,1)" font-size="13.50" text-anchor="end">0.02</text>
<text transform="translate(243.50,443.12) scale(0.880,1)" font-size="13.50" text-anchor="end">0.03</text>
<text transform="translate(243.50,394.66) scale(0.880,1)" font-size="13.50" text-anchor="end">0.04</text>
<text transform="translate(243.50,346.20) scale(0.880,1)" font-size="13.50" text-anchor="end">0.05</text>
<text transform="translate(552.80,588.40) scale(0.880,1)" font-size="13.50">×</text>
<text transform="translate(560.20,586.80) scale(0.880,1)" font-size="13.50">10</text>
<rect x="572.50" y="579.20" width="3.6" height="0.9" fill="#222"/>
<text x="576.10" y="581.80" font-size="9">4</text>
<text x="369.90" y="619.80" font-size="15.00" font-style="italic">P</text>
<text x="386.30" y="619.80" font-size="15.00">(</text>
<text x="392.20" y="619.80" font-size="15.00" font-style="italic">E</text>
<text x="402.40" y="616.00" font-size="10.50">*</text>
<text x="410.40" y="619.80" font-size="15.00" font-style="italic">A</text>
<text x="419.50" y="622.40" font-size="10.50">0</text>
<text x="425.10" y="619.80" font-size="15.00">)</text>
<line x1="379.50" y1="622.80" x2="383.60" y2="609.50" class="sl"/>
<g transform="translate(213.60,463.00) rotate(-90)"><text x="-18.20" y="0.00" font-size="15.00" font-style="italic">A</text><text x="-8.10" y="1.60" font-size="10.50" font-style="italic">r</text><text x="3.70" y="0.00" font-size="15.00" font-style="italic">A</text><text x="14.30" y="2.00" font-size="10.50">0</text><line x1="-1.9" y1="2.5" x2="3.1" y2="-10.8" class="sl"/></g>
<text x="198.30" y="335.30" font-size="15.50" text-anchor="start" >(c)</text>
<rect x="423.50" y="513.50" width="103.00" height="39.00" fill="#fff" stroke="#6e6e6e" stroke-width="1"/>
<line x1="425.50" y1="524.10" x2="459.50" y2="524.10" stroke="#2f74b5" stroke-width="2"/>
<line x1="425.10" y1="542.40" x2="459.80" y2="542.40" stroke="#d6521d" stroke-width="1.9" stroke-dasharray="4,2.6"/>
<text x="462.50" y="526.90" font-size="14.20" text-anchor="start" letter-spacing="0.35">loading</text>
<text x="462.50" y="545.10" font-size="14.20" text-anchor="start" letter-spacing="0.35">unloading</text>
</svg>
</body></html>
